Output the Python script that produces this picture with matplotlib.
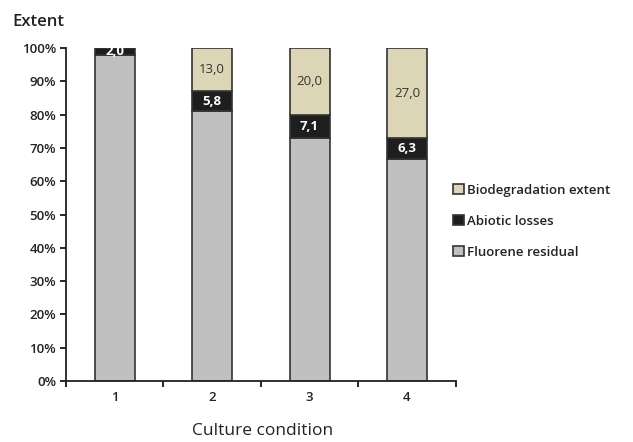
import matplotlib
matplotlib.use('Agg')
import matplotlib.pyplot as plt
from matplotlib.ticker import FixedLocator, FuncFormatter

# percentages of fluorene per culture condition
condiciones = ['1', '2', '3', '4']
residual = [98.0, 81.2, 72.9, 66.7]
abiotico = [2.0, 5.8, 7.1, 6.3]
biodeg = [0.0, 13.0, 20.0, 27.0]
etiq_abiotico = ['2,0', '5,8', '7,1', '6,3']
etiq_biodeg = ['', '13,0', '20,0', '27,0']

plt.rcParams['font.family'] = ['Open Sans', 'DejaVu Sans']

fig = plt.figure(figsize=(6.33, 4.42), dpi=100)
ax = fig.add_axes([0.104, 0.138, 0.616, 0.753])

x = list(range(len(condiciones)))
w = 0.41
b1 = ax.bar(x, residual, w, color='#c0c0c0', edgecolor='#333333', linewidth=1.2, label='Fluorene residual')
b2 = ax.bar(x, abiotico, w, bottom=residual, color='#1e1e1e', edgecolor='#333333', linewidth=1.2, label='Abiotic losses')
base = [r + a for r, a in zip(residual, abiotico)]
b3 = ax.bar(x, biodeg, w, bottom=base, color='#dcd6b6', edgecolor='#333333', linewidth=1.2, label='Biodegradation extent')

for i in x:
    ax.text(i, residual[i] + abiotico[i] / 2, etiq_abiotico[i], ha='center', va='center',
            color='white', fontsize=9.5, fontweight='bold')
    if etiq_biodeg[i]:
        ax.text(i, base[i] + biodeg[i] / 2, etiq_biodeg[i], ha='center', va='center',
                color='#333333', fontsize=9.5)

ax.set_xlim(-0.5, 3.5)
ax.set_ylim(0, 100)
ax.set_yticks(range(0, 101, 10))
ax.yaxis.set_major_formatter(FuncFormatter(lambda v, p: f'{int(v)}%'))
ax.set_xticks(x)
ax.set_xticklabels(condiciones)
ax.xaxis.set_minor_locator(FixedLocator([-0.5, 0.5, 1.5, 2.5, 3.5]))
ax.tick_params(axis='x', which='major', length=0, pad=7, labelsize=9.5)
ax.tick_params(axis='x', which='minor', length=4, width=1.2, direction='out')
ax.tick_params(axis='y', length=4, width=1.2, labelsize=9.5, pad=3)
for lbl in ax.get_xticklabels() + ax.get_yticklabels():
    lbl.set_fontweight('semibold')
    lbl.set_color('#222222')

for s in ['top', 'right']:
    ax.spines[s].set_visible(False)
for s in ['left', 'bottom']:
    ax.spines[s].set_linewidth(1.3)
    ax.spines[s].set_color('#222222')

fig.text(0.019, 0.95, 'Extent', fontsize=12, fontweight='semibold', color='#222222', va='center')
fig.text(0.415, 0.025, 'Culture condition', fontsize=12.5, color='#222222', ha='center', va='center')

leg = ax.legend(handles=[b3, b2, b1], loc='center left', bbox_to_anchor=(0.98, 0.48),
                frameon=False, fontsize=9.5, handlelength=0.8, handleheight=0.8,
                handletextpad=0.25, labelspacing=1.35, borderaxespad=0)
for t in leg.get_texts():
    t.set_fontweight('semibold')
    t.set_color('#222222')

fig.savefig('out.png', dpi=100)
